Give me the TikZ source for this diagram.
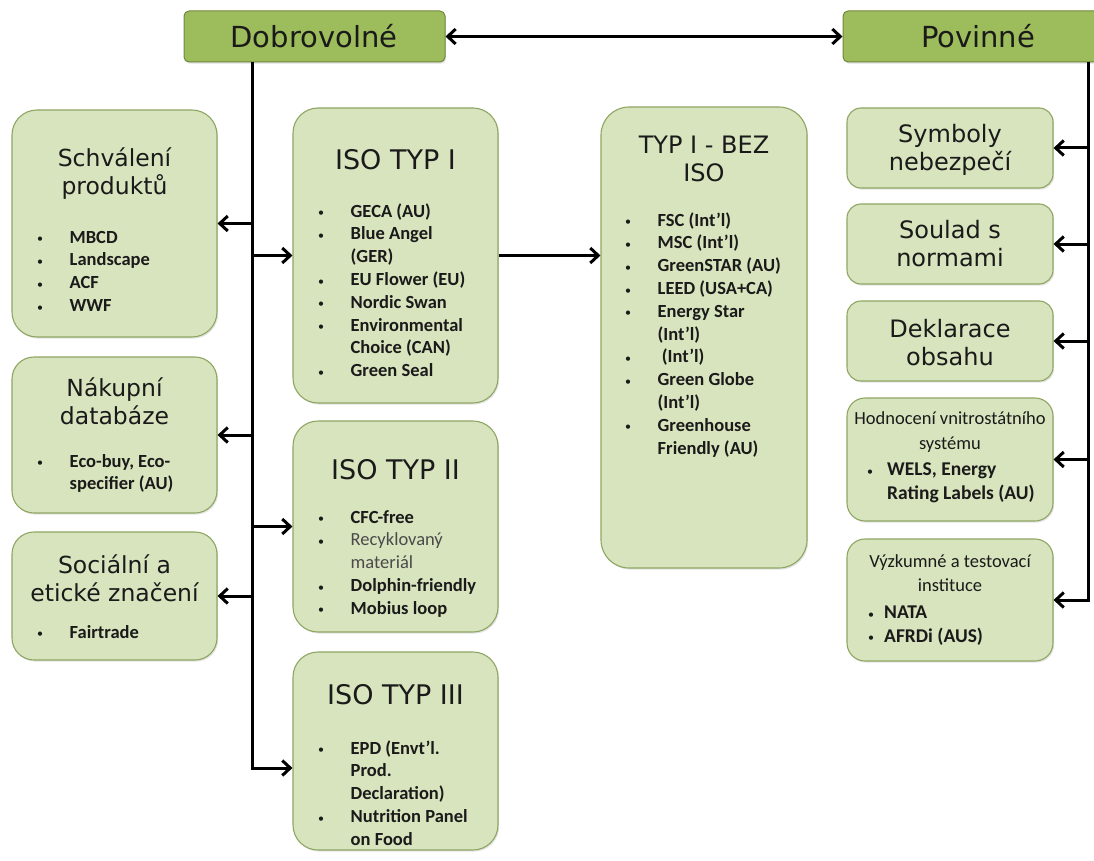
\documentclass[tikz,border=0pt]{standalone}
\usepackage{fontspec}
\setmainfont{Carlito}
\newfontfamily\ttlfont{DejaVu Sans}
\usetikzlibrary{arrows.meta,shadows}
\definecolor{boxfill}{HTML}{D7E4BD}
\definecolor{boxline}{HTML}{8FA663}
\definecolor{hdrfill}{HTML}{9DBC5B}
\definecolor{hdrline}{HTML}{70893C}
\definecolor{txt}{HTML}{1A1A1A}
\definecolor{lighttxt}{HTML}{4A4A4A}
\newcommand\bdot{\raisebox{0.5pt}{\mdseries\fontsize{12}{12}\selectfont •}}
\newcommand\bi[2][32.5pt]{\strut\makebox[#1][l]{\bdot}#2}
\newcommand\ci[2][32.5pt]{\strut\hspace*{#1}#2}
\tikzset{
  gbox/.style={draw=boxline, line width=1.1pt, fill=boxfill, rounded corners=#1, inner sep=0,
    drop shadow={shadow xshift=1.2pt, shadow yshift=-1.6pt, opacity=0.22}},
  gbox/.default=22pt,
  hbox/.style={draw=hdrline, line width=1pt, fill=hdrfill, rounded corners=5pt, inner sep=0,
    drop shadow={shadow xshift=1.2pt, shadow yshift=-1.6pt, opacity=0.25}},
  htxt/.style={font=\ttlfont\fontsize{29}{34}\selectfont, text=txt, inner sep=0},
  ttl/.style={font=\ttlfont\fontsize{#1}{28}\selectfont, align=center, text=txt, inner sep=0},
  ttl/.default=23.5,
  ctl/.style={font=\fontsize{18.5}{24.5}\selectfont, align=center, text=txt, inner sep=0},
  lst/.style={font=\bfseries\fontsize{18.5}{22.8}\selectfont, align=left, text=txt, inner sep=0, anchor=north west},
  lstr/.style={font=\bfseries\fontsize{19.5}{23.5}\selectfont, align=left, text=txt, inner sep=0, anchor=north west},
  con/.style={line width=3pt, draw=black},
  arr/.style={con, -{Straight Barb[length=8pt,width=15pt]}},
  darr/.style={con, {Straight Barb[length=8pt,width=15pt]}-{Straight Barb[length=8pt,width=15pt]}},
}
\begin{document}
\begin{tikzpicture}[x=1pt,y=-1pt]
\useasboundingbox (0,0) rectangle (1094,861);

% headers
\node[hbox, minimum width=261pt, minimum height=51pt] (dob) at (314.5,36.5) {};
\node[hbox, minimum width=270pt, minimum height=51pt] (pov) at (978,36.5) {};
\node[htxt] (dobT) at (314,36) {Dobrovolné};
\node[htxt] (povT) at (978,36) {Povinné};

% left column
\node[gbox=25pt, minimum width=205pt, minimum height=227pt] (schv) at (114.5,223.5) {};
\node[gbox, minimum width=205pt, minimum height=156pt] (nak) at (114.5,435) {};
\node[gbox, minimum width=205pt, minimum height=128pt] (soc) at (114.5,596) {};
\node[ttl] (schvT) at (114.5,174) {Schválení\\produktů};
\node[lst] (schvL) at (37,227) {\bi{MBCD}\\\bi{Landscape}\\\bi{ACF}\\\bi{WWF}};
\node[ttl] (nakT) at (114.5,401) {Nákupní\\databáze};
\node[lst] (nakL) at (37,451) {\bi{Eco-buy, Eco-}\\\ci{specifier (AU)}};
\node[ttl] (socT) at (114.5,578) {Sociální a\\etické značení};
\node[lst] (socL) at (37,622) {\bi{Fairtrade}};

% ISO column
\node[gbox=25pt, minimum width=205pt, minimum height=295pt] (iso1) at (395.5,255.5) {};
\node[gbox=25pt, minimum width=205pt, minimum height=211pt] (iso2) at (395.5,526.5) {};
\node[gbox=25pt, minimum width=205pt, minimum height=198pt] (iso3) at (395.5,751) {};
\node[ttl=27] (iso1T) at (395.5,160) {ISO TYP I};
\node[lst] (iso1L) at (318,201) {\bi{GECA (AU)}\\\bi{Blue Angel}\\\ci{(GER)}\\\bi{EU Flower (EU)}\\\bi{Nordic Swan}\\\bi{Environmental}\\\ci{Choice (CAN)}\\\bi{Green Seal}};
\node[ttl=27] (iso2T) at (395.5,470) {ISO TYP II};
\node[lst] (iso2L) at (318,507) {\bi{CFC-free}\\\bi{\mdseries\color{lighttxt}Recyklovaný}\\\ci{\mdseries\color{lighttxt}materiál}\\\bi{Dolphin-friendly}\\\bi{Mobius loop}};
\node[ttl=27] (iso3T) at (395.5,695) {ISO TYP III};
\node[lst] (iso3L) at (318,738) {\bi{EPD (Envt’l.}\\\ci{Prod.}\\\ci{Declaration)}\\\bi{Nutrition Panel}\\\ci{on Food}};

% TYP I - BEZ ISO
\node[gbox=28pt, minimum width=206pt, minimum height=461pt] (bez) at (704,337.5) {};
\node[ttl=24] (bezT) at (704,159) {TYP I - BEZ\\ISO};
\node[lst] (bezL) at (625,210) {\bi{FSC (Int’l)}\\\bi{MSC (Int’l)}\\\bi{GreenSTAR (AU)}\\\bi{LEED (USA+CA)}\\\bi{Energy Star}\\\ci{(Int’l)}\\\bi{\ (Int’l)}\\\bi{Green Globe}\\\ci{(Int’l)}\\\bi{Greenhouse}\\\ci{Friendly (AU)}};

% right column
\node[gbox=14pt, minimum width=206pt, minimum height=80pt] (sym) at (950,148) {};
\node[gbox=14pt, minimum width=206pt, minimum height=80pt] (soul) at (950,244) {};
\node[gbox=14pt, minimum width=206pt, minimum height=80pt] (dek) at (950,341) {};
\node[gbox=18pt, minimum width=206pt, minimum height=123pt] (hod) at (950,459.5) {};
\node[gbox=18pt, minimum width=206pt, minimum height=122pt] (vyz) at (950,600) {};
\node[ttl=24] (symT) at (950,150) {Symboly\\nebezpečí};
\node[ttl=24] (soulT) at (950,244) {Soulad s\\normami};
\node[ttl=24] (dekT) at (950,343) {Deklarace\\obsahu};
\node[ctl] (hodT) at (950,432) {Hodnocení vnitrostátního\\systému};
\node[lstr] (hodL) at (867,459) {\bi[20pt]{WELS, Energy}\\\ci[20pt]{Rating Labels (AU)}};
\node[ctl] (vyzT) at (950,573) {Výzkumné a testovací\\instituce};
\node[lstr] (vyzL) at (868,602) {\bi[16pt]{NATA}\\\bi[16pt]{AFRDi (AUS)}};

% connectors
\draw[darr] (dob.east) -- (pov.west);
\coordinate (dtop) at (252,0 |- dob.south);
\coordinate (i3in) at (iso3.west |- 0,768);
\draw[arr] (dtop) |- (i3in);
\draw[arr] (schv.east -| dtop) -- (schv.east);
\draw[arr] (nak.east -| dtop) -- (nak.east);
\draw[arr] (soc.east -| dtop) -- (soc.east);
\draw[arr] (iso1.west -| dtop) -- (iso1.west);
\draw[arr] (iso2.west -| dtop) -- (iso2.west);
\draw[arr] (iso1.east) -- (iso1.east -| bez.west);
\coordinate (ptop) at (1088,0 |- pov.south);
\draw[arr] (ptop) |- (vyz.east);
\draw[arr] (sym.east -| ptop) -- (sym.east);
\draw[arr] (soul.east -| ptop) -- (soul.east);
\draw[arr] (dek.east -| ptop) -- (dek.east);
\draw[arr] (hod.east -| ptop) -- (hod.east);
\end{tikzpicture}
\end{document}
